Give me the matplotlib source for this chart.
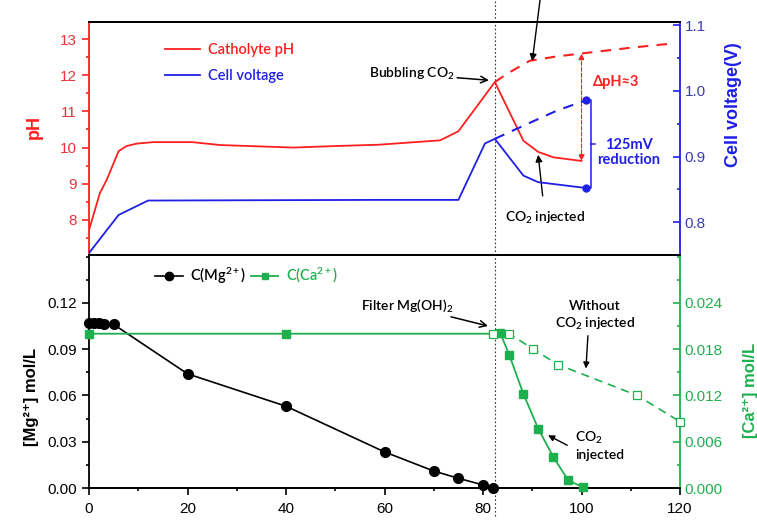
import matplotlib
matplotlib.use("Agg")
import matplotlib.pyplot as plt
from matplotlib.lines import Line2D
from matplotlib.ticker import MultipleLocator

plt.rcParams['font.family'] = ['Liberation Sans', 'DejaVu Sans']
plt.rcParams['mathtext.fontset'] = 'custom'
plt.rcParams['mathtext.rm'] = 'Lato:semibold'
plt.rcParams['mathtext.it'] = 'Lato:italic'
plt.rcParams['mathtext.bf'] = 'Lato:bold'

# ── palette ───────────────────────────────────────────────────────────────
RED = "#FF1F1F"
RED_TXT = "#E8343C"
BLUE = "#1F1FE6"
BLUE_TXT = "#3B3BB8"
GREEN = "#1EB04E"
ANN = ['Lato', 'DejaVu Sans']
AW = "semibold"

# ── data: top panel ───────────────────────────────────────────────────────
t_ph = [0, 2.2, 3.6, 6, 7.6, 9.7, 13, 21, 26.6, 41.5, 49.6, 59, 71.3, 75,
        82.4, 88.2, 91.2, 94.3, 100]
ph = [7.72, 8.74, 9.11, 9.9, 10.04, 10.11, 10.15, 10.15, 10.07, 10.0, 10.04,
      10.08, 10.2, 10.45, 11.81, 10.19, 9.88, 9.73, 9.63]
t_ph_dash = [82.4, 85, 89.5, 95, 100, 110, 118]
ph_dash = [11.81, 12.05, 12.4, 12.52, 12.6, 12.76, 12.87]

t_v = [0, 6, 12, 59, 75, 80.4, 82.4, 88.2, 91.2, 101]
volt = [0.753, 0.811, 0.833, 0.834, 0.834, 0.920, 0.927, 0.871, 0.861, 0.852]
t_v_dash = [82.4, 88.2, 95, 101]
volt_dash = [0.927, 0.947, 0.970, 0.986]

t_filter = 82.4

# ── data: bottom panel ────────────────────────────────────────────────────
t_mg = [0, 1, 2, 3, 5, 20, 40, 60, 70, 75, 80, 82]
mg = [0.107, 0.107, 0.107, 0.106, 0.106, 0.074, 0.053, 0.0234, 0.011,
      0.0063, 0.002, 0.0]
t_ca = [0, 40, 82, 83.5, 85.3, 88.2, 91.2, 94.3, 97.3, 100.3]
ca = [0.020, 0.020, 0.020, 0.0201, 0.0173, 0.0122, 0.0077, 0.0040, 0.0010,
      0.0001]
t_ca_no = [82, 85.3, 90.2, 95.2, 111.3, 120]
ca_no = [0.020, 0.020, 0.018, 0.016, 0.012, 0.0086]

fig = plt.figure(figsize=(7.57, 5.23), dpi=100)
L, W, H = 0.1176, 0.7807, 0.4455
ax1 = fig.add_axes([L, 0.5124, W, H])
ax2 = ax1.twinx()
ax3 = fig.add_axes([L, 0.0669, W, H])
ax4 = ax3.twinx()

for ax in (ax1, ax2, ax3, ax4):
    ax.set_xlim(0, 120)
    for s in ax.spines.values():
        s.set_linewidth(1.3)
    ax.patch.set_visible(False)

# ── top panel ─────────────────────────────────────────────────────────────
ax1.plot(t_ph, ph, color=RED, lw=1.3, zorder=3)
ax1.plot(t_ph_dash, ph_dash, color=RED, lw=1.5, ls=(0, (5, 4)), zorder=3)
ax2.plot(t_v, volt, color=BLUE, lw=1.3, zorder=3)
ax2.plot(t_v_dash, volt_dash, color=BLUE, lw=1.5, ls=(0, (5, 4)), zorder=3)
ax2.plot([t_v[-1], t_v_dash[-1]], [volt[-1], volt_dash[-1]], ls="none",
         marker="o", ms=5, color=BLUE, zorder=4)

ax1.set_ylim(7.03, 13.47)
ax2.set_ylim(0.75, 1.105)
ax1.set_xticks([])
ax1.set_yticks([8, 9, 10, 11, 12, 13])
ax1.yaxis.set_minor_locator(MultipleLocator(0.5))
ax2.set_yticks([0.8, 0.9, 1.0, 1.1])
ax2.yaxis.set_minor_locator(MultipleLocator(0.05))
ax1.tick_params(axis="y", which="both", direction="out", colors=RED,
                labelcolor=RED_TXT, labelsize=11, width=1.2)
ax1.tick_params(axis="y", which="major", length=5)
ax1.tick_params(axis="y", which="minor", length=2.5)
ax2.tick_params(axis="y", which="both", direction="in", colors=BLUE,
                labelcolor=BLUE_TXT, labelsize=11, width=1.2)
ax2.tick_params(axis="y", which="major", length=5)
ax2.tick_params(axis="y", which="minor", length=2.5)
ax1.spines["left"].set_color(RED)
ax2.spines["left"].set_visible(False)
ax2.spines["right"].set_color(BLUE)
ax1.spines["right"].set_visible(False)

ax1.set_ylabel("pH", color=RED, fontsize=13, fontweight="bold")
ax1.yaxis.set_label_coords(-0.078, 0.55)
ax2.set_ylabel("Cell voltage(V)", color=BLUE, fontsize=13, fontweight="bold")
ax2.yaxis.set_label_coords(1.076, 0.644)

handles = [Line2D([], [], color=RED, lw=1.3), Line2D([], [], color=BLUE, lw=1.3)]
leg = ax1.legend(handles, ["Catholyte pH", "Cell voltage"], loc="upper left",
                 bbox_to_anchor=(0.129, 0.91), frameon=False, borderpad=0,
                 borderaxespad=0, handlelength=2.4, handletextpad=0.5,
                 labelspacing=0.85,
                 prop={"family": ANN, "size": 10.5, "weight": AW})
for txt, c in zip(leg.get_texts(), (RED, BLUE)):
    txt.set_color(c)

# annotations top
ax1.annotate("Bubbling CO$_2$", xy=(81.2, 11.86), xytext=(65.5, 12.03),
             ha="center", va="center", fontsize=10, family=ANN, weight=AW,
             arrowprops=dict(arrowstyle="->", color="black", lw=1.1,
                             shrinkA=32, shrinkB=0, mutation_scale=12))
ax1.annotate("", xy=(90.0, 12.39), xytext=(91.6, 14.1),
             annotation_clip=False,
             arrowprops=dict(arrowstyle="-|>", color="black", lw=1.0,
                             shrinkA=0, shrinkB=0, mutation_scale=10))
ax1.annotate("CO$_2$ injected", xy=(91.2, 9.8), xytext=(92.6, 8.06),
             ha="center", va="center", fontsize=10, family=ANN, weight=AW,
             arrowprops=dict(arrowstyle="-|>", color="black", lw=1.0,
                             shrinkA=8, shrinkB=0, mutation_scale=10))
ax1.annotate("", xy=(t_ph[-1], ph_dash[4]), xytext=(t_ph[-1], ph[-1]),
             arrowprops=dict(arrowstyle="<|-|>", color=RED, lw=0.8, ls="--",
                             shrinkA=0, shrinkB=0, mutation_scale=9))
ax1.text(102.3, 11.8, "ΔpH≈3", color=RED, fontsize=10.5, fontweight="bold",
         family=ANN, ha="left", va="center")

# bracket for voltage reduction
xb = t_v[-1] + 1
ax2.plot([t_v[-1], xb, xb, t_v[-1]],
         [volt_dash[-1], volt_dash[-1], volt[-1], volt[-1]],
         color=BLUE, lw=1.1, zorder=3)
vmid = (volt_dash[-1] + volt[-1]) / 2
ax2.plot([xb, xb + 0.8], [vmid, vmid], color=BLUE, lw=1.1)
ax2.text(109.6, 0.906, "125mV\nreduction", color=BLUE, fontsize=10.5,
         fontweight="bold", family=ANN, ha="center", va="center",
         linespacing=1.15)

# dotted filter line across both panels
ax1.axvline(t_filter, ymin=-1.12, ymax=1.1, color="#333333", lw=0.8,
            ls=(0, (1.5, 2)), clip_on=False, zorder=1)

# ── bottom panel ──────────────────────────────────────────────────────────
ax3.plot(t_mg, mg, color="black", lw=1.2, marker="o", ms=7, zorder=4,
         clip_on=False)
ax4.plot(t_ca, ca, color=GREEN, lw=1.3, marker="s", ms=5.5,
         markevery=[0, 1, 3, 4, 5, 6, 7, 8, 9], zorder=3, clip_on=False)
ax4.plot(t_ca_no, ca_no, color=GREEN, lw=1.2, ls=(0, (5, 3.5)), marker="s",
         ms=6, mfc="white", mec=GREEN, mew=0.9, zorder=3, clip_on=False)

ax3.set_ylim(0, 0.151)
ax4.set_ylim(0, 0.0302)
ax3.set_yticks([0, 0.03, 0.06, 0.09, 0.12])
ax3.set_yticklabels(["0.00", "0.03", "0.06", "0.09", "0.12"])
ax3.yaxis.set_minor_locator(MultipleLocator(0.015))
ax4.set_yticks([0, 0.006, 0.012, 0.018, 0.024])
ax4.set_yticklabels(["0.000", "0.006", "0.012", "0.018", "0.024"])
ax4.yaxis.set_minor_locator(MultipleLocator(0.003))
ax3.set_xticks([0, 20, 40, 60, 80, 100, 120])
ax3.xaxis.set_minor_locator(MultipleLocator(10))
ax3.tick_params(which="both", direction="out", labelsize=11, width=1.2)
ax3.tick_params(which="major", length=5)
ax3.tick_params(which="minor", length=2.5)
ax3.tick_params(axis="x", pad=5)
ax4.tick_params(axis="y", which="both", direction="in", colors=GREEN,
                labelcolor=GREEN, labelsize=11, width=1.2)
ax4.tick_params(axis="y", which="major", length=5)
ax4.tick_params(axis="y", which="minor", length=2.5)
ax4.spines["right"].set_color(GREEN)
ax3.spines["right"].set_visible(False)
ax4.spines["left"].set_visible(False)

ax3.set_ylabel("[Mg²⁺] mol/L", fontsize=12, fontweight="bold")
ax3.yaxis.set_label_coords(-0.085, 0.39)
ax4.set_ylabel("[Ca²⁺] mol/L", color=GREEN, fontsize=12, fontweight="bold")
ax4.yaxis.set_label_coords(1.107, 0.42)

handles = [Line2D([], [], color="black", lw=1.2, marker="o", ms=6),
           Line2D([], [], color=GREEN, lw=1.3, marker="s", ms=5)]
leg = ax3.legend(handles, ["C(Mg$^{2+}$)", "C(Ca$^{2+}$)"], loc="upper left",
                 bbox_to_anchor=(0.112, 0.955), ncol=2, frameon=False,
                 borderpad=0, borderaxespad=0, handlelength=1.9,
                 handletextpad=0.5, columnspacing=0.3, numpoints=1,
                 prop={"family": ANN, "size": 10.5, "weight": AW})
for txt, c in zip(leg.get_texts(), ("black", GREEN)):
    txt.set_color(c)

ax3.annotate("Filter Mg(OH)$_2$", xy=(81, 0.105), xytext=(64.6, 0.118),
             ha="center", va="center", fontsize=10, family=ANN, weight=AW,
             arrowprops=dict(arrowstyle="->", color="black", lw=1.1,
                             shrinkA=38, shrinkB=0, mutation_scale=12))
ax3.text(102.7, 0.1116, "Without\nCO$_2$ injected", fontsize=10, family=ANN,
         weight=AW, ha="center", va="center", linespacing=1.3)
ax3.annotate("", xy=(100.9, 0.0774), xytext=(101.3, 0.0987),
             arrowprops=dict(arrowstyle="-|>", color="black", lw=1.0,
                             shrinkA=0, shrinkB=0, mutation_scale=9))
ax3.text(98.7, 0.0277, "CO$_2$\ninjected", fontsize=10, family=ANN,
         weight=AW, ha="left", va="center", linespacing=1.3)
ax3.annotate("", xy=(93.2, 0.0342), xytext=(97.1, 0.0277),
             arrowprops=dict(arrowstyle="-|>", color="black", lw=1.0,
                             shrinkA=0, shrinkB=0, mutation_scale=9))

fig.savefig("out.png", dpi=100)
